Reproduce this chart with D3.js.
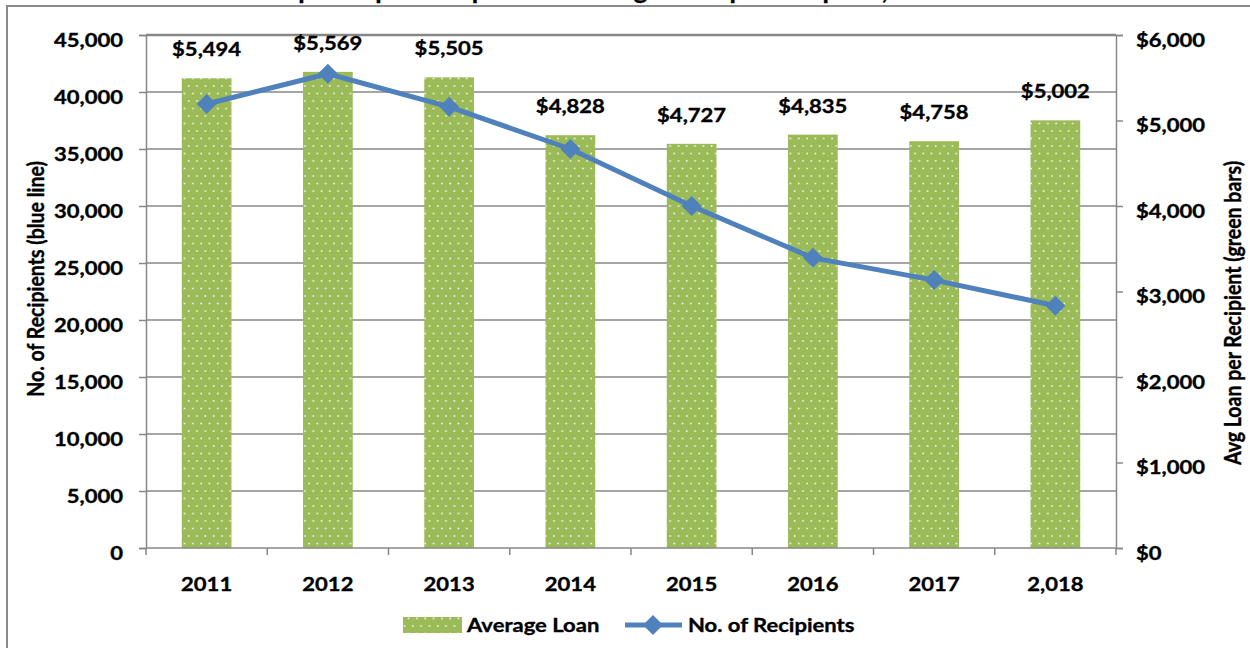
<!DOCTYPE html>
<html>
<head>
<meta charset="utf-8">
<script src="https://cdn.jsdelivr.net/npm/d3@7"></script>
<style>
  html, body { margin: 0; padding: 0; background: #fff; }
  svg { display: block; }
  text { font-family: Lato, "Open Sans", sans-serif; font-weight: 700; fill: #000;
         stroke: #000; stroke-width: 0.35px; }
</style>
</head>
<body>
<svg id="chart" width="1250" height="648"></svg>
<script>
// Loan data, one entry per award year
const years = ["2011", "2012", "2013", "2014", "2015", "2016", "2017", "2,018"];
const avgLoan = [5494, 5569, 5505, 4828, 4727, 4835, 4758, 5002];
const recipients = [38950, 41600, 38700, 35000, 30000, 25450, 23500, 21250];
const recipientTicks = [0, 5000, 10000, 15000, 20000, 25000, 30000, 35000, 40000, 45000];
const loanTicks = [0, 1000, 2000, 3000, 4000, 5000, 6000];

const W = 1250, H = 648;
const plot = { left: 146, right: 1116, top: 35, bottom: 548 };
const FONT = 19.5;      // label size
const STRETCH = 1.13;   // horizontal widening of the bold labels
const GRID = "#878787", BAR = "#9BBB59", LINE = "#4F81BD";

const svg = d3.select("#chart");

// widen a text element horizontally around its anchor x
function widen(sel, k) {
  sel.each(function () {
    const t = d3.select(this);
    const x = +t.attr("x") || 0;
    t.attr("transform", `translate(${x * (1 - k)},0) scale(${k},1)`);
  });
}

// dotted fill for the bars
const defs = svg.append("defs");
const pat = defs.append("pattern")
  .attr("id", "dots").attr("patternUnits", "userSpaceOnUse")
  .attr("width", 8.3).attr("height", 15);
pat.append("rect").attr("width", 8.3).attr("height", 15).attr("fill", BAR);
[[2, 3.5], [6.15, 11]].forEach(([cx, cy]) =>
  pat.append("rect").attr("x", cx - 0.8).attr("y", cy - 0.8)
    .attr("width", 1.6).attr("height", 1.6).attr("fill", "#f4f8ec"));

// frame around the chart
svg.append("line").attr("x1", 6).attr("x2", W).attr("y1", 6).attr("y2", 6)
  .attr("stroke", "#8a8a8a").attr("stroke-width", 2);
svg.append("line").attr("x1", 7).attr("x2", 7).attr("y1", 6).attr("y2", H)
  .attr("stroke", "#8a8a8a").attr("stroke-width", 2);

// title, mostly above the visible frame
svg.append("text")
  .attr("x", 560).attr("y", -1).attr("text-anchor", "middle")
  .style("font-size", "26px")
  .text("Perkins Loan Recipients per Campus and Average Loan per Recipient, 2011-2018");

// scales
const x = d3.scaleBand().domain(years)
  .range([plot.left, plot.right]).paddingInner(0.59).paddingOuter(0.295);
const yL = d3.scaleLinear().domain([0, 45000]).range([plot.bottom, plot.top]);
const yR = d3.scaleLinear().domain([0, 6000]).range([plot.bottom, plot.top]);

// horizontal gridlines
svg.append("g").selectAll("line").data(recipientTicks.filter(d => d > 0)).join("line")
  .attr("x1", plot.left).attr("x2", plot.right)
  .attr("y1", d => yL(d)).attr("y2", d => yL(d))
  .attr("stroke", GRID).attr("stroke-width", d => d === 45000 ? 2.5 : 1.5);

// bars
svg.append("g").selectAll("rect").data(years).join("rect")
  .attr("x", d => x(d)).attr("width", x.bandwidth())
  .attr("y", (d, i) => yR(avgLoan[i]))
  .attr("height", (d, i) => plot.bottom - yR(avgLoan[i]))
  .attr("fill", "url(#dots)");

// left axis
const gL = svg.append("g").attr("transform", `translate(${plot.left},0)`)
  .call(d3.axisLeft(yL).tickValues(recipientTicks).tickSize(7).tickPadding(16)
    .tickFormat(d3.format(",")));
// right axis
const gR = svg.append("g").attr("transform", `translate(${plot.right},0)`)
  .call(d3.axisRight(yR).tickValues(loanTicks).tickSize(7).tickPadding(13)
    .tickFormat(d => "$" + d3.format(",")(d)));
[gL, gR].forEach(g => {
  g.select(".domain").attr("stroke", GRID).attr("stroke-width", 1.5);
  g.selectAll(".tick line").attr("stroke", GRID).attr("stroke-width", 1.5);
  g.selectAll(".tick text").attr("dy", "11px").style("font-size", FONT + "px")
    .attr("fill", "#000").call(widen, STRETCH);
  g.attr("font-family", null).attr("font-size", null);
});

// bottom axis with ticks between categories
const gX = svg.append("g").attr("transform", `translate(0,${plot.bottom})`)
  .call(d3.axisBottom(x).tickSize(0).tickPadding(0));
gX.select(".domain").remove();
gX.attr("font-family", null).attr("font-size", null);
gX.selectAll(".tick text").attr("y", 43).attr("dy", 0)
  .style("font-size", FONT + "px").attr("fill", "#000").call(widen, STRETCH);
const gap = (x.step() - x.bandwidth()) / 2;
const bounds = years.map(d => x(d) - gap).concat([plot.right]);
svg.append("line").attr("x1", plot.left).attr("x2", plot.right)
  .attr("y1", plot.bottom).attr("y2", plot.bottom)
  .attr("stroke", GRID).attr("stroke-width", 1.5);
svg.append("g").selectAll("line").data(bounds).join("line")
  .attr("x1", d => d).attr("x2", d => d)
  .attr("y1", plot.bottom).attr("y2", plot.bottom + 7)
  .attr("stroke", GRID).attr("stroke-width", 1.5);

// value labels above bars
svg.append("g").selectAll("text").data(years).join("text")
  .attr("x", d => x(d) + x.bandwidth() / 2)
  .attr("y", (d, i) => yR(avgLoan[i]) - 22)
  .attr("text-anchor", "middle").style("font-size", FONT + "px")
  .text((d, i) => "$" + d3.format(",")(avgLoan[i]))
  .call(widen, STRETCH);

// recipients line
const pts = years.map((d, i) => [x(d) + x.bandwidth() / 2, yL(recipients[i])]);
svg.append("path").attr("d", d3.line()(pts))
  .attr("fill", "none").attr("stroke", LINE).attr("stroke-width", 5)
  .attr("stroke-linejoin", "round");
const diamond = d3.symbol(d3.symbolSquare, 200);
svg.append("g").selectAll("path").data(pts).join("path")
  .attr("d", diamond)
  .attr("transform", d => `translate(${d[0]},${d[1]}) rotate(45)`)
  .attr("fill", LINE);

// axis titles, both reading bottom to top
svg.append("text")
  .attr("transform", `translate(44,279) rotate(-90) scale(1,${STRETCH})`)
  .attr("text-anchor", "middle").style("font-size", FONT + "px")
  .text("No. of Recipients (blue line)");
svg.append("text")
  .attr("transform", `translate(1241,313) rotate(-90) scale(1,${STRETCH})`)
  .attr("text-anchor", "middle").style("font-size", FONT + "px")
  .text("Avg Loan per Recipient (green bars)");

// legend
const lg = svg.append("g");
lg.append("rect").attr("x", 403).attr("y", 617).attr("width", 59).attr("height", 16)
  .attr("fill", "url(#dots)");
lg.append("text").attr("x", 467).attr("y", 632).style("font-size", FONT + "px")
  .text("Average Loan").call(widen, STRETCH);
lg.append("line").attr("x1", 625).attr("x2", 682).attr("y1", 625).attr("y2", 625)
  .attr("stroke", LINE).attr("stroke-width", 5);
lg.append("path").attr("d", diamond)
  .attr("transform", "translate(653,625) rotate(45)").attr("fill", LINE);
lg.append("text").attr("x", 688).attr("y", 632).style("font-size", FONT + "px")
  .text("No. of Recipients").call(widen, STRETCH);
</script>
</body>
</html>
